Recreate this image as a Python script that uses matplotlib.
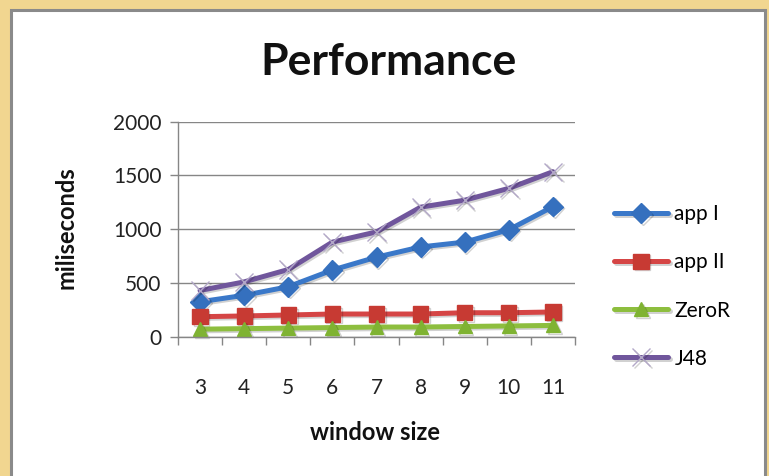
import numpy as np
import matplotlib.pyplot as plt
import matplotlib.patheffects as pe
from matplotlib.patches import Rectangle

plt.rcParams['font.family'] = ['Lato', 'DejaVu Sans']

window_size = [3, 4, 5, 6, 7, 8, 9, 10, 11]
app_1 = [325, 385, 465, 620, 740, 835, 880, 995, 1210]
app_2 = [186, 193, 202, 211, 211, 211, 223, 223, 230]
zero_r = [70, 75, 80, 85, 90, 90, 95, 100, 105]
j48 = [430, 510, 625, 880, 975, 1205, 1270, 1380, 1535]

series = [
    ("app I", app_1, "#3A78C9", "D", 10, "#3570BE"),
    ("app II", app_2, "#D54545", "s", 11, "#C73A33"),
    ("ZeroR", zero_r, "#8DBE3E", "^", 10, "#7FB332"),
    ("J48", j48, "#70569C", "x", 13, "#B3A8C8"),
]

fig = plt.figure(figsize=(7.69, 4.76), dpi=100)
fig.patch.set_facecolor("#F1D690")
# white chart panel with grey frame
fig.patches.append(Rectangle((11 / 769, -0.05), 754 / 769, 1.05 - 10 / 476,
                             transform=fig.transFigure, facecolor="white",
                             edgecolor="#8A8A8A", linewidth=2.2, zorder=-1))

ax = fig.add_axes([178 / 769, 139.3 / 476, 397 / 769, 215 / 476])
ax.set_facecolor("none")
ax.set_zorder(2)

x = np.arange(len(window_size))
shadow = [pe.SimpleLineShadow(offset=(1.2, -1.2), alpha=0.18), pe.Normal()]
for name, vals, color, marker, ms, mcol in series:
    if marker == "x":
        ax.plot(x, vals, color=color, lw=3.6, marker=marker, ms=ms,
                mec=mcol, mew=1.0, label=name, path_effects=shadow,
                solid_capstyle="round", clip_on=False)
    else:
        ax.plot(x, vals, color=color, lw=3.6, marker=marker, ms=ms,
                mfc=mcol, mec=mcol, label=name, path_effects=shadow,
                solid_capstyle="round", clip_on=False)

ax.set_xlim(-0.5, len(window_size) - 0.5)
ax.set_ylim(0, 2000)
ax.set_yticks([0, 500, 1000, 1500, 2000])
ax.set_xticks(x)
ax.set_xticklabels([str(w) for w in window_size])
ax.set_xticks(np.arange(-0.5, len(window_size), 1.0), minor=True)
ax.tick_params(axis="x", which="major", length=0, pad=30, labelsize=15, colors="#222222")
ax.tick_params(axis="x", which="minor", length=6, color="#868686", width=1)
ax.tick_params(axis="y", length=6, color="#868686", width=1, pad=6, labelsize=15,
               colors="#222222")
ax.grid(axis="y", color="#868686", lw=1)
ax.set_axisbelow(True)
for side in ["top", "right"]:
    ax.spines[side].set_visible(False)
for side in ["left", "bottom"]:
    ax.spines[side].set_color("#868686")
    ax.spines[side].set_linewidth(1)

fig.text(388 / 769, 1 - 62 / 476, "Performance", ha="center", va="center",
         fontsize=32, fontweight="bold", color="#111111")
fig.text(66 / 769, 1 - 228 / 476, "miliseconds", ha="center", va="center",
         rotation=90, fontsize=17, fontweight="bold", color="#111111")
fig.text(375 / 769, 1 - 432 / 476, "window size", ha="center", va="center",
         fontsize=17, fontweight="bold", color="#111111")

ax.legend(loc="center left", bbox_to_anchor=(614 / 769, 1 - 286.5 / 476),
          bbox_transform=fig.transFigure, frameon=False, fontsize=15,
          handlelength=2.6, handletextpad=0.3, labelspacing=1.35,
          borderpad=0, borderaxespad=0)

fig.savefig("out.png", dpi=100, facecolor=fig.get_facecolor())
